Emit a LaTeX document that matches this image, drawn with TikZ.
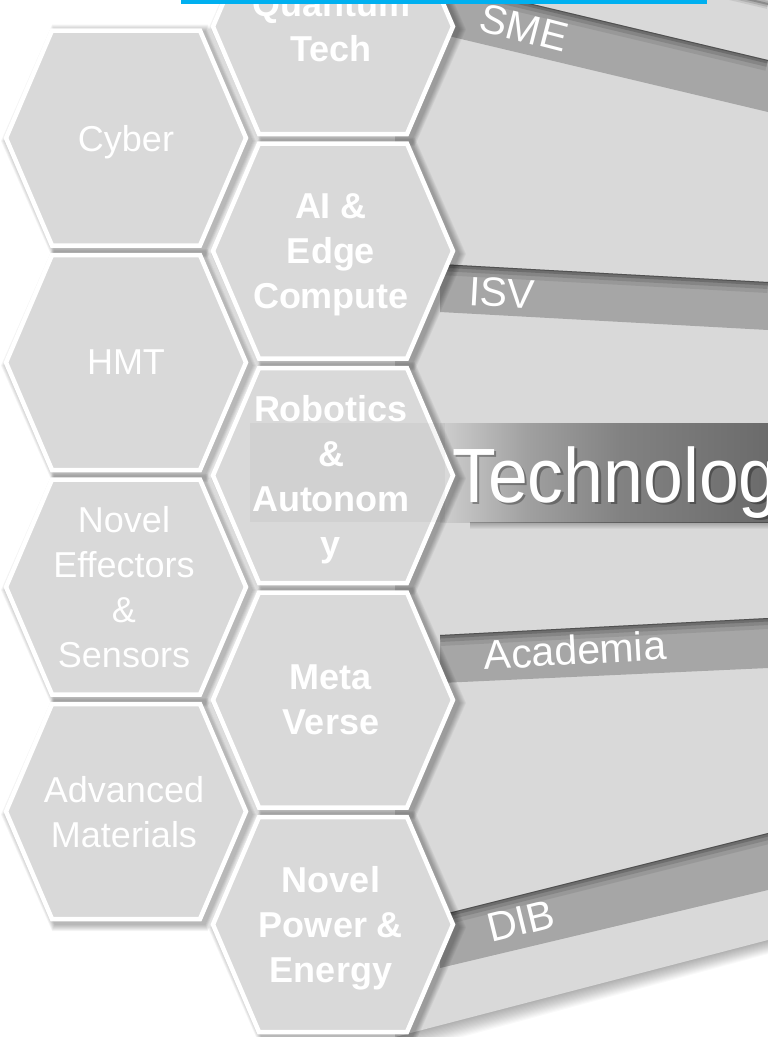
\documentclass[tikz,border=0pt]{standalone}
\usepackage{fontspec}
\setmainfont{Liberation Sans}
\definecolor{hexgray}{HTML}{D9D9D9}
\definecolor{bandgray}{HTML}{A6A6A6}
\definecolor{topline}{HTML}{00B0F0}
\newcommand{\hexpath}[5]{({#1-(#3)},{#2}) -- ({#1-(#4)},{#2-(#5)}) -- ({#1+(#4)},{#2-(#5)}) -- ({#1+(#3)},{#2}) -- ({#1+(#4)},{#2+(#5)}) -- ({#1-(#4)},{#2+(#5)}) -- cycle}
\newcommand{\bandstrip}[4]{%
  \begin{scope}
    \clip (440,#1) -- (768,#2) -- (768,#4) -- (440,#3) -- cycle;
    \fill[bandgray] (440,#1) -- (768,#2) -- (768,#4) -- (440,#3) -- cycle;
    \foreach \w/\o in {22/0.08, 14/0.12, 7/0.18, 2/0.25}
      \draw[black, opacity=\o, line width=\w pt] (440,#1) -- (768,#2);
  \end{scope}}
\begin{document}
\begin{tikzpicture}[x=1pt,y=-1pt,
  lefttext/.style={text=white, align=center, font=\fontsize{36}{45}\selectfont, text depth=0pt, inner sep=0pt},
  righttext/.style={lefttext, font=\fontsize{36}{45}\selectfont\bfseries},
  bandlabel/.style={text=white, font=\fontsize{41}{41}\selectfont, inner sep=0pt},
  hexbody/.style={fill=hexgray, draw=white, line width=4.5pt, line join=miter},
  techtext/.style={anchor=base west, font=\fontsize{77}{77}\selectfont, xscale=0.93, inner sep=0pt},
]
\useasboundingbox (0,0) rectangle (768,1037);
\clip (0,0) rectangle (768,1037);
\fill[white] (0,0) rectangle (768,1037);

% funnel shadow and funnel
\foreach \k in {1,...,14}
  \fill[black, opacity=0.025] (395,-10) -- (768,-10) -- (768,{940+\k}) -- (395,{1037+1.3*\k}) -- cycle;
\fill[hexgray] (395,-10) -- (768,-10) -- (768,940) -- (395,1037) -- cycle;
\begin{scope}
  \clip (395,-10) -- (768,-10) -- (768,940) -- (395,1037) -- cycle;
  \foreach \w/\o in {10/0.08, 6/0.12, 2/0.2}
    \draw[black, opacity=\o, line width=\w pt] (700,-12) -- (768,4);
\end{scope}

% bands
\bandstrip{-18}{60}{34}{112}
\bandstrip{264}{282}{312}{330}
\bandstrip{635}{618}{683}{668}
\bandstrip{915}{833}{968}{890}

% banner (right part)
\shade[left color=black!19, right color=black!37] (440,423) rectangle (526,522);
\shade[left color=black!37, right color=black!49] (526,423) rectangle (620,522);
\shade[left color=black!49, right color=black!58] (620,423) rectangle (768,522);
\foreach \k in {1,...,7}
  \fill[black, opacity=0.04] (470,522) rectangle (768,{522+\k});

% hexagon shadows
\foreach \cx/\cy in {126/138, 126/362.5, 126/587, 126/811.5, 333/26.5, 333/251, 333/475.5, 333/700, 333/924.5} {
  \foreach \k in {1,...,7}
    \fill[black, opacity=0.045] \hexpath{\cx+4}{\cy+3}{122+\k}{75+0.4*\k}{109.5+\k};
}
% hexagons
\foreach \cx/\cy in {126/138, 126/362.5, 126/587, 126/811.5, 333/26.5, 333/251, 333/475.5, 333/700, 333/924.5}
  \filldraw[hexbody] \hexpath{\cx}{\cy}{120}{74}{107.5};

% banner overlay on hexagon
\fill[black, opacity=0.035] (250,423) rectangle (445,522);

% texts in hexagons
\node[lefttext] (cyber) at (126,138) {Cyber};
\node[lefttext] (hmt) at (126,362.5) {HMT};
\node[lefttext] (effectors) at (124,587) {Novel\\Effectors\\\&\\Sensors};
\node[lefttext] (materials) at (124,811.5) {Advanced\\Materials};
\node[righttext] (quantum) at (331,26.5) {Quantum\\Tech};
\node[righttext] (ai) at (331,251) {AI \&\\Edge\\Compute};
\node[righttext] (robotics) at (331,475.5) {Robotics\\\&\\Autonom\\y};
\node[righttext] (meta) at (331,700) {Meta\\Verse};
\node[righttext] (power) at (331,924.5) {Novel\\Power \&\\Energy};

% band labels
\node[bandlabel, rotate=-14.5] (sme) at (524,28) {SME};
\node[bandlabel, rotate=-3.2] (isv) at (502,293) {ISV};
\node[bandlabel, rotate=3.1] (academia) at (575,650) {Academia};
\node[bandlabel, rotate=13.8] (dib) at (521,921) {DIB};

% Technology banner text
\node[techtext, text=black, opacity=0.3] (techshadow) at (454.5,504.5) {Technolog};
\node[techtext, text=white] (tech) at (452,502) {Technolog};

% top cyan line
\fill[topline] (181,0) rectangle (707,3.5);
\end{tikzpicture}
\end{document}
